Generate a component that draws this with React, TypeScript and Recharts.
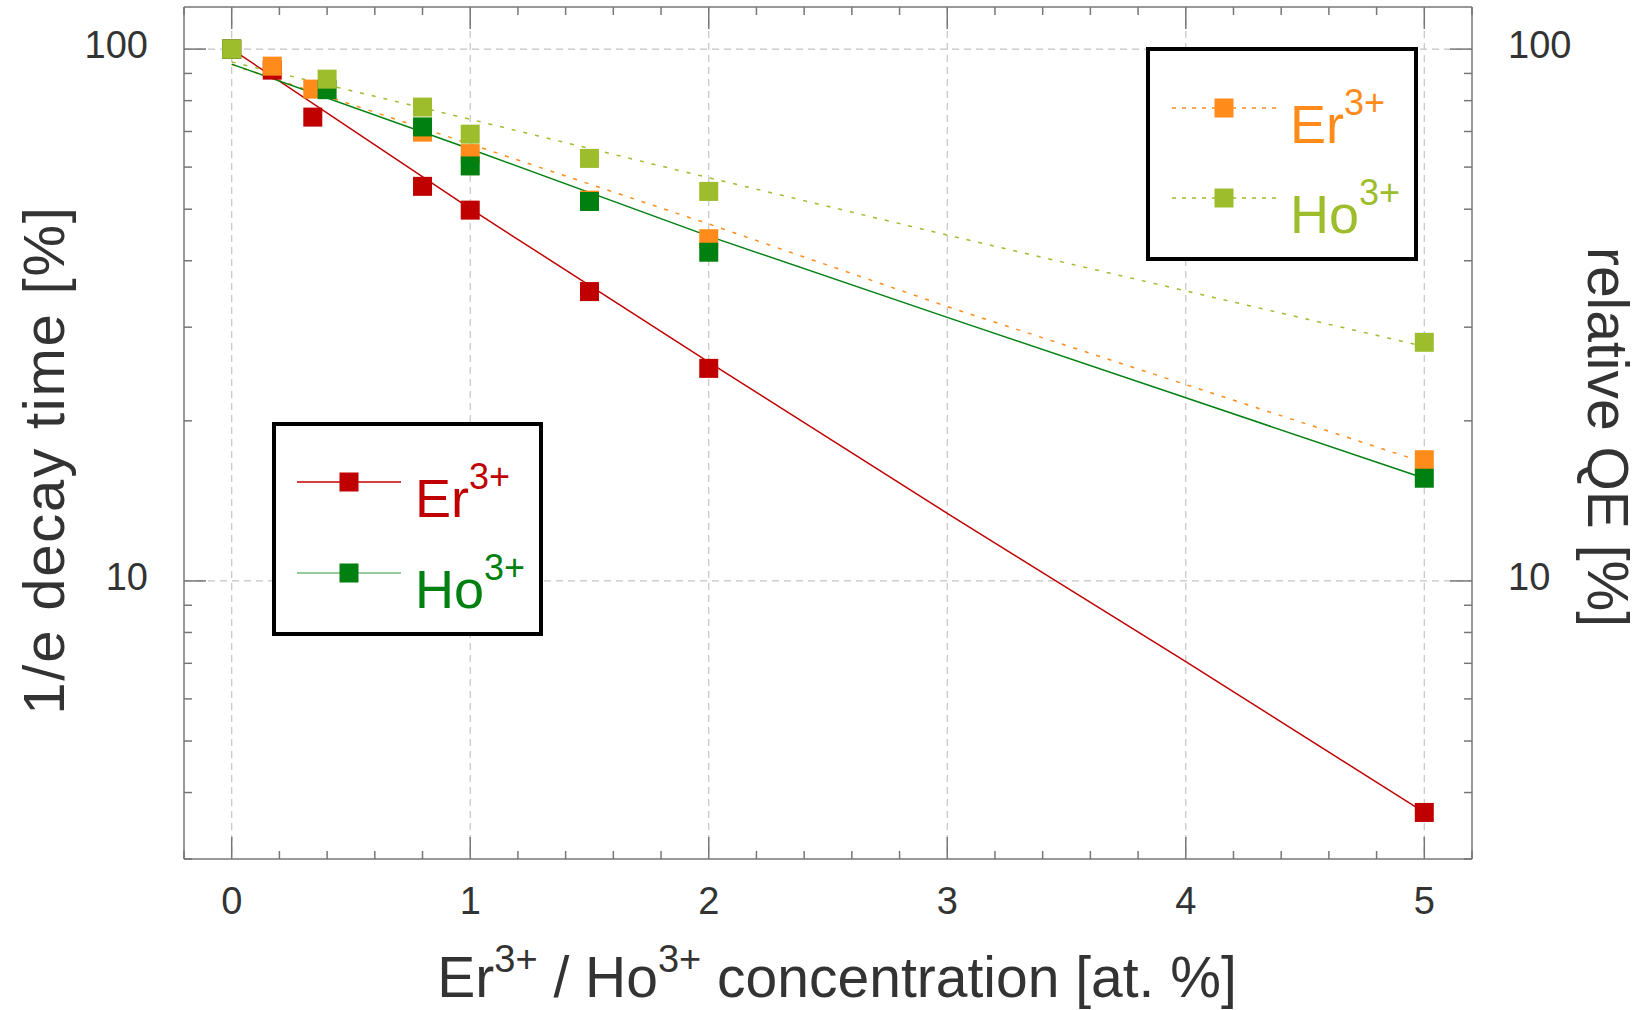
import React from 'react';
import { ComposedChart, Line, XAxis, YAxis, CartesianGrid } from 'recharts';

// measured points (concentration in at.%, values in %)
const erConc = [0, 0.17, 0.34, 0.8, 1, 1.5, 2, 5];
const erDecay = [100, 91.3, 74.5, 55.2, 49.8, 35.0, 25.1, 3.67];
const erQE = [100, 92.9, 84.1, 69.8, 63.6, 52.0, 44.0, 16.9];

const hoConc = [0, 0.4, 0.8, 1, 1.5, 2, 5];
const hoDecay = [100, 83.9, 71.4, 60.3, 51.7, 41.5, 15.6];
const hoQE = [100, 87.8, 77.8, 69.2, 62.3, 54.0, 28.1];

// fit curves
const fitConc = [0, 1, 2, 3, 4, 5];
const erDecayFit = [100, 50.1, 25.8, 13.4, 7.05, 3.67];
const hoDecayFit = [93.7, 64.9, 44.5, 31.3, 22.1, 15.6];
const erQEFit = [93.5, 66.3, 46.9, 32.8, 23.4, 16.7];
const hoQEFit = [94.6, 73.8, 57.3, 44.7, 35.1, 27.6];

const xTicks = [-0.2, 0, 0.2, 0.4, 0.6, 0.8, 1, 1.2, 1.4, 1.6, 1.8, 2, 2.2, 2.4, 2.6, 2.8, 3, 3.2, 3.4, 3.6, 3.8, 4, 4.2, 4.4, 4.6, 4.8, 5, 5.2];
const yTicks = [3, 4, 5, 6, 7, 8, 9, 10, 20, 30, 40, 50, 60, 70, 80, 90, 100];
const xGrid = [0, 1, 2, 3, 4, 5];
const yGrid = [10, 100];
const yMajor = [10, 100];

const RED = '#C00000';
const GREEN = '#008010';
const ORANGE = '#FF8C1A';
const LIME = '#9DBD2C';
const AXIS = '#777777';
const TEXT = '#333333';
const FONT = '"Liberation Sans", Arial, sans-serif';

const pts = (xs: number[], ys: number[]) => xs.map((x, i) => ({ x, y: ys[i] }));

const isInt = (v: number) => Math.abs(v - Math.round(v)) < 1e-6;

const BottomTick = (p: any) => {
  const v = p.payload.value;
  const major = isInt(v);
  return (
    <g>
      <line x1={p.x} x2={p.x} y1={p.y} y2={p.y - (major ? 22 : 8)} stroke={AXIS} strokeWidth={1.5} />
      {major && (
        <text x={p.x} y={p.y + 55} textAnchor="middle" fontSize={38} fill={TEXT} fontFamily={FONT}>
          {Math.round(v)}
        </text>
      )}
    </g>
  );
};

const TopTick = (p: any) => {
  const major = isInt(p.payload.value);
  return <line x1={p.x} x2={p.x} y1={p.y} y2={p.y + (major ? 22 : 8)} stroke={AXIS} strokeWidth={1.5} />;
};

const LeftTick = (p: any) => {
  const v = p.payload.value;
  const major = yMajor.includes(v);
  return (
    <g>
      <line x1={p.x} x2={p.x + (major ? 22 : 8)} y1={p.y} y2={p.y} stroke={AXIS} strokeWidth={1.5} />
      {major && (
        <text x={p.x - 36} y={p.y + 9} textAnchor="end" fontSize={38} fill={TEXT} fontFamily={FONT}>
          {v}
        </text>
      )}
    </g>
  );
};

const RightTick = (p: any) => {
  const v = p.payload.value;
  const major = yMajor.includes(v);
  return (
    <g>
      <line x1={p.x} x2={p.x - (major ? 22 : 8)} y1={p.y} y2={p.y} stroke={AXIS} strokeWidth={1.5} />
      {major && (
        <text x={p.x + 36} y={p.y + 9} textAnchor="start" fontSize={38} fill={TEXT} fontFamily={FONT}>
          {v}
        </text>
      )}
    </g>
  );
};

const square = (color: string) => (p: any) => (
  <rect key={p.index} x={p.cx - 9.5} y={p.cy - 9.5} width={19} height={19} fill={color} />
);

const LegendItem = ({ y, x0, color, dash, label, lineOpacity = 1 }: any) => (
  <g>
    <line x1={x0} x2={x0 + 104} y1={y} y2={y} stroke={color} strokeWidth={1.5} strokeDasharray={dash} strokeOpacity={lineOpacity} />
    <rect x={x0 + 52 - 9.5} y={y - 9.5} width={19} height={19} fill={color} />
    <text x={x0 + 118} y={y + 35} fontSize={54} fill={color} fontFamily={FONT}>
      {label}
      <tspan fontSize={36} dy={-28}>3+</tspan>
    </text>
  </g>
);

export default function App() {
  return (
    <div style={{ position: 'absolute', left: 0, top: 0, width: 1641, height: 1010, background: '#fff' }}>
      <ComposedChart width={1641} height={1010} margin={{ top: 5, right: 109, bottom: 111, left: 124 }}>
        <CartesianGrid
          horizontalValues={yGrid}
          verticalValues={xGrid}
          stroke="#c4c4c4"
          strokeDasharray="7 5"
          strokeWidth={1.2}
        />
        <XAxis
          type="number"
          dataKey="x"
          domain={[-0.2, 5.2]}
          ticks={xTicks}
          interval={0}
          allowDataOverflow
          height={40}
          tickSize={0}
          tickMargin={0}
          tickLine={false}
          tick={<BottomTick />}
          axisLine={{ stroke: AXIS, strokeWidth: 1.5 }}
        />
        <XAxis
          xAxisId="top"
          orientation="top"
          type="number"
          dataKey="x"
          domain={[-0.2, 5.2]}
          ticks={xTicks}
          interval={0}
          allowDataOverflow
          height={2}
          tickSize={0}
          tickMargin={0}
          tickLine={false}
          tick={<TopTick />}
          axisLine={{ stroke: AXIS, strokeWidth: 1.5 }}
        />
        <YAxis
          scale="log"
          type="number"
          domain={[3, 120]}
          ticks={yTicks}
          interval={0}
          allowDataOverflow
          width={60}
          tickSize={0}
          tickMargin={0}
          tickLine={false}
          tick={<LeftTick />}
          axisLine={{ stroke: AXIS, strokeWidth: 1.5 }}
        />
        <YAxis
          yAxisId="right"
          orientation="right"
          scale="log"
          type="number"
          domain={[3, 120]}
          ticks={yTicks}
          interval={0}
          allowDataOverflow
          width={60}
          tickSize={0}
          tickMargin={0}
          tickLine={false}
          tick={<RightTick />}
          axisLine={{ stroke: AXIS, strokeWidth: 1.5 }}
        />

        {/* fit curves */}
        <Line data={pts(fitConc, erDecayFit)} dataKey="y" stroke={RED} strokeWidth={1.5} dot={false} activeDot={false} isAnimationActive={false} />
        <Line data={pts(fitConc, erQEFit)} dataKey="y" stroke={ORANGE} strokeWidth={1.5} strokeDasharray="4 8" dot={false} activeDot={false} isAnimationActive={false} />
        <Line data={pts(fitConc, hoDecayFit)} dataKey="y" stroke={GREEN} strokeWidth={1.5} dot={false} activeDot={false} isAnimationActive={false} />
        <Line data={pts(fitConc, hoQEFit)} dataKey="y" stroke={LIME} strokeWidth={1.5} strokeDasharray="4 8" dot={false} activeDot={false} isAnimationActive={false} />

        {/* measured points */}
        <Line data={pts(erConc, erDecay)} dataKey="y" stroke="none" dot={square(RED)} activeDot={false} isAnimationActive={false} />
        <Line data={pts(erConc, erQE)} dataKey="y" stroke="none" dot={square(ORANGE)} activeDot={false} isAnimationActive={false} />
        <Line data={pts(hoConc, hoDecay)} dataKey="y" stroke="none" dot={square(GREEN)} activeDot={false} isAnimationActive={false} />
        <Line data={pts(hoConc, hoQE)} dataKey="y" stroke="none" dot={square(LIME)} activeDot={false} isAnimationActive={false} />

        {/* keeps the mirrored axes bound */}
        <Line data={pts(fitConc, hoQEFit)} xAxisId="top" yAxisId="right" dataKey="y" stroke="none" dot={false} activeDot={false} isAnimationActive={false} />
      </ComposedChart>

      <svg width={1641} height={1010} style={{ position: 'absolute', left: 0, top: 0, pointerEvents: 'none' }}>
        <text x={837} y={997} textAnchor="middle" fontSize={57} fill={TEXT} fontFamily={FONT}>
          Er<tspan fontSize={38} dy={-25}>3+</tspan>
          <tspan dy={25}> / Ho</tspan>
          <tspan fontSize={38} dy={-25}>3+</tspan>
          <tspan dy={25}> concentration [at. %]</tspan>
        </text>
        <text x={64} y={460} transform="rotate(-90 64 460)" textAnchor="middle" fontSize={58} letterSpacing={1.8} fill={TEXT} fontFamily={FONT}>
          1/e decay time [%]
        </text>
        <text x={1588} y={437} transform="rotate(90 1588 437)" textAnchor="middle" fontSize={57} fill={TEXT} fontFamily={FONT}>
          relative QE [%]
        </text>

        <rect x={274} y={424} width={267} height={210} fill="#fff" stroke="#000" strokeWidth={4} />
        <LegendItem y={482} x0={297} color={RED} label="Er" />
        <LegendItem y={573} x0={297} color={GREEN} label="Ho" lineOpacity={0.55} />

        <rect x={1148} y={49} width={268} height={210} fill="#fff" stroke="#000" strokeWidth={4} />
        <LegendItem y={108} x0={1172} color={ORANGE} dash="4 6" label="Er" />
        <LegendItem y={198} x0={1172} color={LIME} dash="4 6" label="Ho" />
      </svg>
    </div>
  );
}
